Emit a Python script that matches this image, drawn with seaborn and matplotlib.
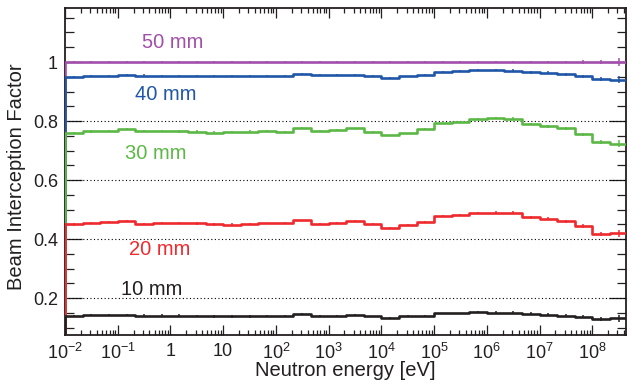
import numpy as np
import pandas as pd
import matplotlib
matplotlib.use("Agg")
import matplotlib.pyplot as plt
import seaborn as sns
from matplotlib.ticker import FixedLocator, LogLocator, NullFormatter, MultipleLocator

# Beam interception factor per energy bin (3 bins per decade, 1e-2 eV .. ~4.6e8 eV)
log10_edges = np.linspace(-2.0, 26.0 / 3.0, 33)

f_50mm = [1.000] * 32
f_40mm = [0.950, 0.953, 0.953, 0.956, 0.954, 0.953, 0.953, 0.953, 0.952, 0.952,
          0.952, 0.952, 0.954, 0.960, 0.955, 0.955, 0.956, 0.952, 0.947, 0.951,
          0.957, 0.967, 0.969, 0.973, 0.973, 0.970, 0.965, 0.963, 0.958, 0.951,
          0.942, 0.940]
f_30mm = [0.760, 0.765, 0.766, 0.773, 0.767, 0.766, 0.765, 0.764, 0.761, 0.762,
          0.764, 0.766, 0.763, 0.777, 0.765, 0.769, 0.775, 0.763, 0.751, 0.758,
          0.773, 0.792, 0.796, 0.808, 0.810, 0.807, 0.790, 0.783, 0.776, 0.755,
          0.729, 0.723]
f_20mm = [0.450, 0.454, 0.458, 0.462, 0.452, 0.455, 0.454, 0.453, 0.450, 0.449,
          0.451, 0.453, 0.454, 0.463, 0.452, 0.455, 0.461, 0.451, 0.439, 0.447,
          0.457, 0.479, 0.481, 0.489, 0.490, 0.490, 0.474, 0.469, 0.461, 0.444,
          0.418, 0.420]
f_10mm = [0.140, 0.142, 0.142, 0.143, 0.141, 0.141, 0.141, 0.140, 0.138, 0.138,
          0.138, 0.139, 0.140, 0.146, 0.139, 0.141, 0.144, 0.138, 0.133, 0.139,
          0.139, 0.148, 0.148, 0.152, 0.151, 0.151, 0.147, 0.144, 0.140, 0.137,
          0.130, 0.131]
# statistical uncertainty per bin
stat_err = [0.004, 0.004, 0.004, 0.004, 0.004, 0.004, 0.004, 0.004, 0.004, 0.004,
            0.004, 0.003, 0.003, 0.003, 0.003, 0.003, 0.003, 0.003, 0.003, 0.003,
            0.003, 0.003, 0.003, 0.003, 0.004, 0.005, 0.005, 0.005, 0.005, 0.006,
            0.007, 0.012]

collimators = ["50 mm", "40 mm", "30 mm", "20 mm", "10 mm"]
series = [f_50mm, f_40mm, f_30mm, f_20mm, f_10mm]
colors = ["#a24fab", "#1f56a8", "#5cb846", "#ee2a2e", "#231f20"]
label_pos = [(0.192, 0.896), (0.179, 0.734), (0.162, 0.556), (0.168, 0.260), (0.155, 0.138)]

sns.set_style("ticks")
plt.rcParams["font.family"] = ["Liberation Sans", "DejaVu Sans"]
plt.rcParams["mathtext.fontset"] = "custom"
plt.rcParams["mathtext.rm"] = "Liberation Sans"
plt.rcParams["mathtext.it"] = "Liberation Sans:italic"
plt.rcParams["mathtext.bf"] = "Liberation Sans:bold"

fig = plt.figure(figsize=(6.27, 3.85), dpi=100)
ax = fig.add_axes([65 / 627, 1 - 335 / 385, (626 - 65) / 627, (335 - 8) / 385])

edges = 10.0 ** log10_edges
centers = 10.0 ** (0.5 * (log10_edges[:-1] + log10_edges[1:]))

for name, vals, col in zip(collimators, series, colors):
    xs = np.concatenate([[edges[0]], edges[:-1], [edges[-1]]])
    ys = np.concatenate([[0.0], vals, [vals[-1]]])
    df = pd.DataFrame({"energy": xs, "factor": ys})
    sns.lineplot(data=df, x="energy", y="factor", ax=ax, color=col, lw=1.9,
                 drawstyle="steps-post", sort=False, estimator=None, zorder=3)
    ax.errorbar(centers, vals, yerr=stat_err, fmt="none", ecolor=col,
                elinewidth=1.1, zorder=3)

for gy in [0.2, 0.4, 0.6, 0.8]:
    ax.axhline(gy, color="black", lw=0.8, ls=(0, (1, 2.2)), zorder=1)

ax.set_xscale("log")
ax.set_xlim(edges[0], 10 ** 8.64)
ax.set_ylim(0.075, 1.183)

xt = [10.0 ** k for k in range(-2, 9)]
xtl = [r"$10^{-2}$", r"$10^{-1}$", "1", "10", r"$10^{2}$", r"$10^{3}$", r"$10^{4}$",
       r"$10^{5}$", r"$10^{6}$", r"$10^{7}$", r"$10^{8}$"]
ax.xaxis.set_major_locator(FixedLocator(xt))
ax.set_xticklabels(xtl)
ax.xaxis.set_minor_locator(LogLocator(base=10, subs=np.arange(2, 10), numticks=30))
ax.xaxis.set_minor_formatter(NullFormatter())

ax.yaxis.set_major_locator(FixedLocator([0.2, 0.4, 0.6, 0.8, 1.0]))
ax.set_yticklabels(["0.2", "0.4", "0.6", "0.8", "1"])
ax.yaxis.set_minor_locator(MultipleLocator(0.05))

ax.tick_params(which="both", direction="in", top=True, right=True, width=0.9,
               labelsize=13, colors="#231f20")
ax.tick_params(axis="y", which="major", length=12.5, pad=5)
ax.tick_params(axis="y", which="minor", length=6.5)
ax.tick_params(axis="x", which="major", length=7, pad=6)
ax.tick_params(axis="x", which="minor", length=3.5)
for s in ax.spines.values():
    s.set_linewidth(1.3)
    s.set_color("#231f20")

ax.set_xlabel("")
ax.set_ylabel("")
fig.text(17 / 627, 1 - 177 / 385, "Beam Interception Factor", rotation=90,
         ha="center", va="center", fontsize=14.5, color="#231f20")
fig.text(345 / 627, 1 - 371 / 385, "Neutron energy [eV]", ha="center", va="center",
         fontsize=14.5, color="#231f20")

for name, col, (tx, ty) in zip(collimators, colors, label_pos):
    ax.text(tx, ty, name, transform=ax.transAxes, ha="center", va="center",
            fontsize=14.5, color=col)

fig.savefig("out.png", dpi=100)
